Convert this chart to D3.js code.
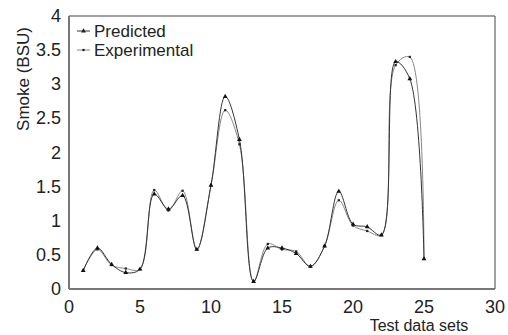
<!DOCTYPE html>
<html>
<head>
<meta charset="utf-8">
<script src="https://cdn.jsdelivr.net/npm/d3@7"></script>
<style>
  body { margin: 0; background: #fff; }
  text { font-family: "Liberation Sans", Arial, sans-serif; fill: #222; }
</style>
</head>
<body>
<svg width="508" height="335"></svg>
<script>
// test data set numbers
const sets = d3.range(1, 26);
const predicted = [0.27, 0.60, 0.36, 0.24, 0.29, 1.39, 1.17, 1.37, 0.58, 1.52,
  2.82, 2.19, 0.11, 0.60, 0.60, 0.52, 0.33, 0.63, 1.43, 0.95,
  0.91, 0.79, 3.33, 3.08, 0.44];
const experimental = [0.27, 0.58, 0.35, 0.30, 0.29, 1.45, 1.15, 1.44, 0.58, 1.52,
  2.62, 2.12, 0.11, 0.66, 0.58, 0.55, 0.33, 0.63, 1.30, 0.93,
  0.85, 0.79, 3.28, 3.40, 0.44];
const xTicks = [0, 5, 10, 15, 20, 25, 30];
const yTicks = [0, 0.5, 1, 1.5, 2, 2.5, 3, 3.5, 4];

const svg = d3.select('svg');
const plotL = 69, plotR = 495, plotT = 16, plotB = 289;

const x = d3.scaleLinear().domain([0, 30]).range([plotL, plotR]);
const y = d3.scaleLinear().domain([0, 4]).range([plotB, plotT]);

// frame: thin dark top/right, heavier gray left/bottom
svg.append('line').attr('x1', plotL).attr('x2', plotR).attr('y1', plotT).attr('y2', plotT)
  .attr('stroke', '#444').attr('stroke-width', 1);
svg.append('line').attr('x1', plotR).attr('x2', plotR).attr('y1', plotT).attr('y2', plotB)
  .attr('stroke', '#444').attr('stroke-width', 1);
svg.append('line').attr('x1', plotL).attr('x2', plotL).attr('y1', plotT).attr('y2', plotB)
  .attr('stroke', '#777').attr('stroke-width', 2);
svg.append('line').attr('x1', plotL).attr('x2', plotR).attr('y1', plotB).attr('y2', plotB)
  .attr('stroke', '#777').attr('stroke-width', 2);

// tick labels
svg.selectAll('.xt').data(xTicks).enter().append('text')
  .attr('x', d => x(d)).attr('y', 313)
  .attr('text-anchor', 'middle').attr('font-size', 18)
  .text(d => d);
svg.selectAll('.yt').data(yTicks).enter().append('text')
  .attr('x', 61).attr('y', d => y(d) + 6)
  .attr('text-anchor', 'end').attr('font-size', 18)
  .text(d => d);

// axis titles
svg.append('text').attr('x', 419).attr('y', 331)
  .attr('text-anchor', 'middle').attr('font-size', 16)
  .text('Test data sets');
svg.append('text').attr('transform', 'translate(29,79) rotate(-90)')
  .attr('text-anchor', 'middle').attr('font-size', 17)
  .text('Smoke (BSU)');

const line = d3.line()
  .x((d, i) => x(sets[i]))
  .y(d => y(d))
  .curve(d3.curveCatmullRom);

// experimental: light gray curve with dots
svg.append('path').datum(experimental).attr('d', line)
  .attr('fill', 'none').attr('stroke', '#888').attr('stroke-width', 1);
// predicted: dark curve with triangles
svg.append('path').datum(predicted).attr('d', line)
  .attr('fill', 'none').attr('stroke', '#333').attr('stroke-width', 1);

const tri = d3.symbol().type(d3.symbolTriangle).size(10);
const dot = d3.symbol().type(d3.symbolSquare).size(5);

svg.selectAll('.pe').data(experimental).enter().append('path')
  .attr('d', dot)
  .attr('transform', (d, i) => `translate(${x(sets[i])},${y(d)})`)
  .attr('fill', '#222');
svg.selectAll('.pp').data(predicted).enter().append('path')
  .attr('d', tri)
  .attr('transform', (d, i) => `translate(${x(sets[i])},${y(d)})`)
  .attr('fill', '#111');

// legend
const legend = [
  { name: 'Predicted', stroke: '#333', sym: tri, y: 31 },
  { name: 'Experimental', stroke: '#888', sym: dot, y: 50 }
];
const lg = svg.selectAll('.lg').data(legend).enter().append('g');
lg.append('line').attr('x1', 77).attr('x2', 90)
  .attr('y1', d => d.y).attr('y2', d => d.y)
  .attr('stroke', d => d.stroke).attr('stroke-width', 1);
lg.append('path').attr('d', d => d.sym())
  .attr('transform', d => `translate(83.5,${d.y})`).attr('fill', '#222');
lg.append('text').attr('x', 94).attr('y', d => d.y + 6)
  .attr('font-size', 17).text(d => d.name);
</script>
</body>
</html>
